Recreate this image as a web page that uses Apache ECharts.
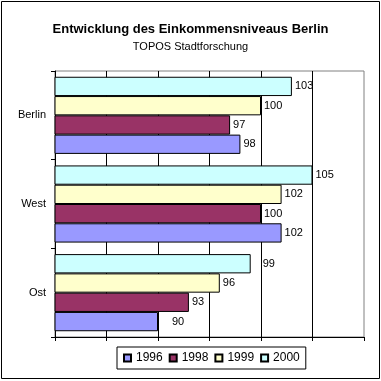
<!DOCTYPE html>
<html><head><meta charset="utf-8">
<script src="https://cdn.jsdelivr.net/npm/echarts@6/dist/echarts.min.js"></script>
<style>html,body{margin:0;padding:0;background:#fff}#c{width:381px;height:381px}</style>
</head><body><div id="c"></div>
<script>
var categories = ['Ost', 'West', 'Berlin'];
var v1996 = [90, 102, 98];
var v1998 = [93, 100, 97];
var v1999 = [96, 102, 100];
var v2000 = [99, 105, 103];
var seriesNames = ['1996', '1998', '1999', '2000'];
var colors = ['#9999FF', '#993366', '#FFFFCC', '#CCFFFF'];
var FONT = '"Liberation Sans", Arial, sans-serif';

// extra label shift (px) for a few labels, as placed in the original
var labelShift = {'0-0': 11, '3-0': 9};

var chart = echarts.init(document.getElementById('c'), null, {renderer: 'canvas'});
var all = [v1996, v1998, v1999, v2000];
var series = seriesNames.map(function (n, i) {
  return {
    name: n, type: 'bar',
    data: all[i].map(function (v, j) {
      var s = labelShift[i + '-' + j];
      return s ? {value: v, label: {offset: [s, 0]}} : v;
    }),
    barGap: '0%', barCategoryGap: '13%',
    itemStyle: {color: colors[i], borderColor: '#000', borderWidth: 1},
    label: {show: true, position: 'right', distance: 3, fontFamily: FONT, fontSize: 11, color: '#000'}
  };
}).reverse();
chart.setOption({
  animation: false,
  textStyle: {fontFamily: FONT},
  title: [
    {text: 'Entwicklung des Einkommensniveaus Berlin', left: 'center', top: 18,
     textStyle: {fontFamily: FONT, fontSize: 13, fontWeight: 'bold', color: '#000'}},
    {text: 'TOPOS Stadtforschung', left: 'center', top: 36,
     textStyle: {fontFamily: FONT, fontSize: 11, fontWeight: 'normal', color: '#000'}}
  ],
  graphic: [{type: 'rect', shape: {x: 1.5, y: 1.5, width: 378, height: 377},
             style: {fill: 'none', stroke: '#000', lineWidth: 1}, silent: true}],
  legend: {
    left: 117, top: 347, orient: 'horizontal',
    padding: [5, 6, 5, 6], borderColor: '#000', borderWidth: 1,
    itemWidth: 7, itemHeight: 7, itemGap: 6, icon: 'rect',
    textStyle: {fontFamily: FONT, fontSize: 12, color: '#000'},
    data: seriesNames
  },
  grid: {left: 55, top: 71, right: 17, bottom: 44, show: true, borderColor: '#808080', borderWidth: 1, backgroundColor: '#fff'},
  xAxis: {
    type: 'value', min: 80, max: 110, interval: 5,
    axisLine: {show: true, lineStyle: {color: '#000', width: 1}},
    axisTick: {show: true, length: 4, lineStyle: {color: '#000'}},
    axisLabel: {show: false},
    splitLine: {show: true, showMinLine: false, showMaxLine: false, lineStyle: {color: '#000', width: 1}}
  },
  yAxis: {
    type: 'category', data: categories,
    axisLine: {show: true, lineStyle: {color: '#000', width: 1}},
    axisTick: {show: true, length: 4, lineStyle: {color: '#000'}},
    axisLabel: {margin: 9, fontFamily: FONT, fontSize: 11, color: '#000'},
    splitLine: {show: false}
  },
  series: series
});
</script></body></html>
